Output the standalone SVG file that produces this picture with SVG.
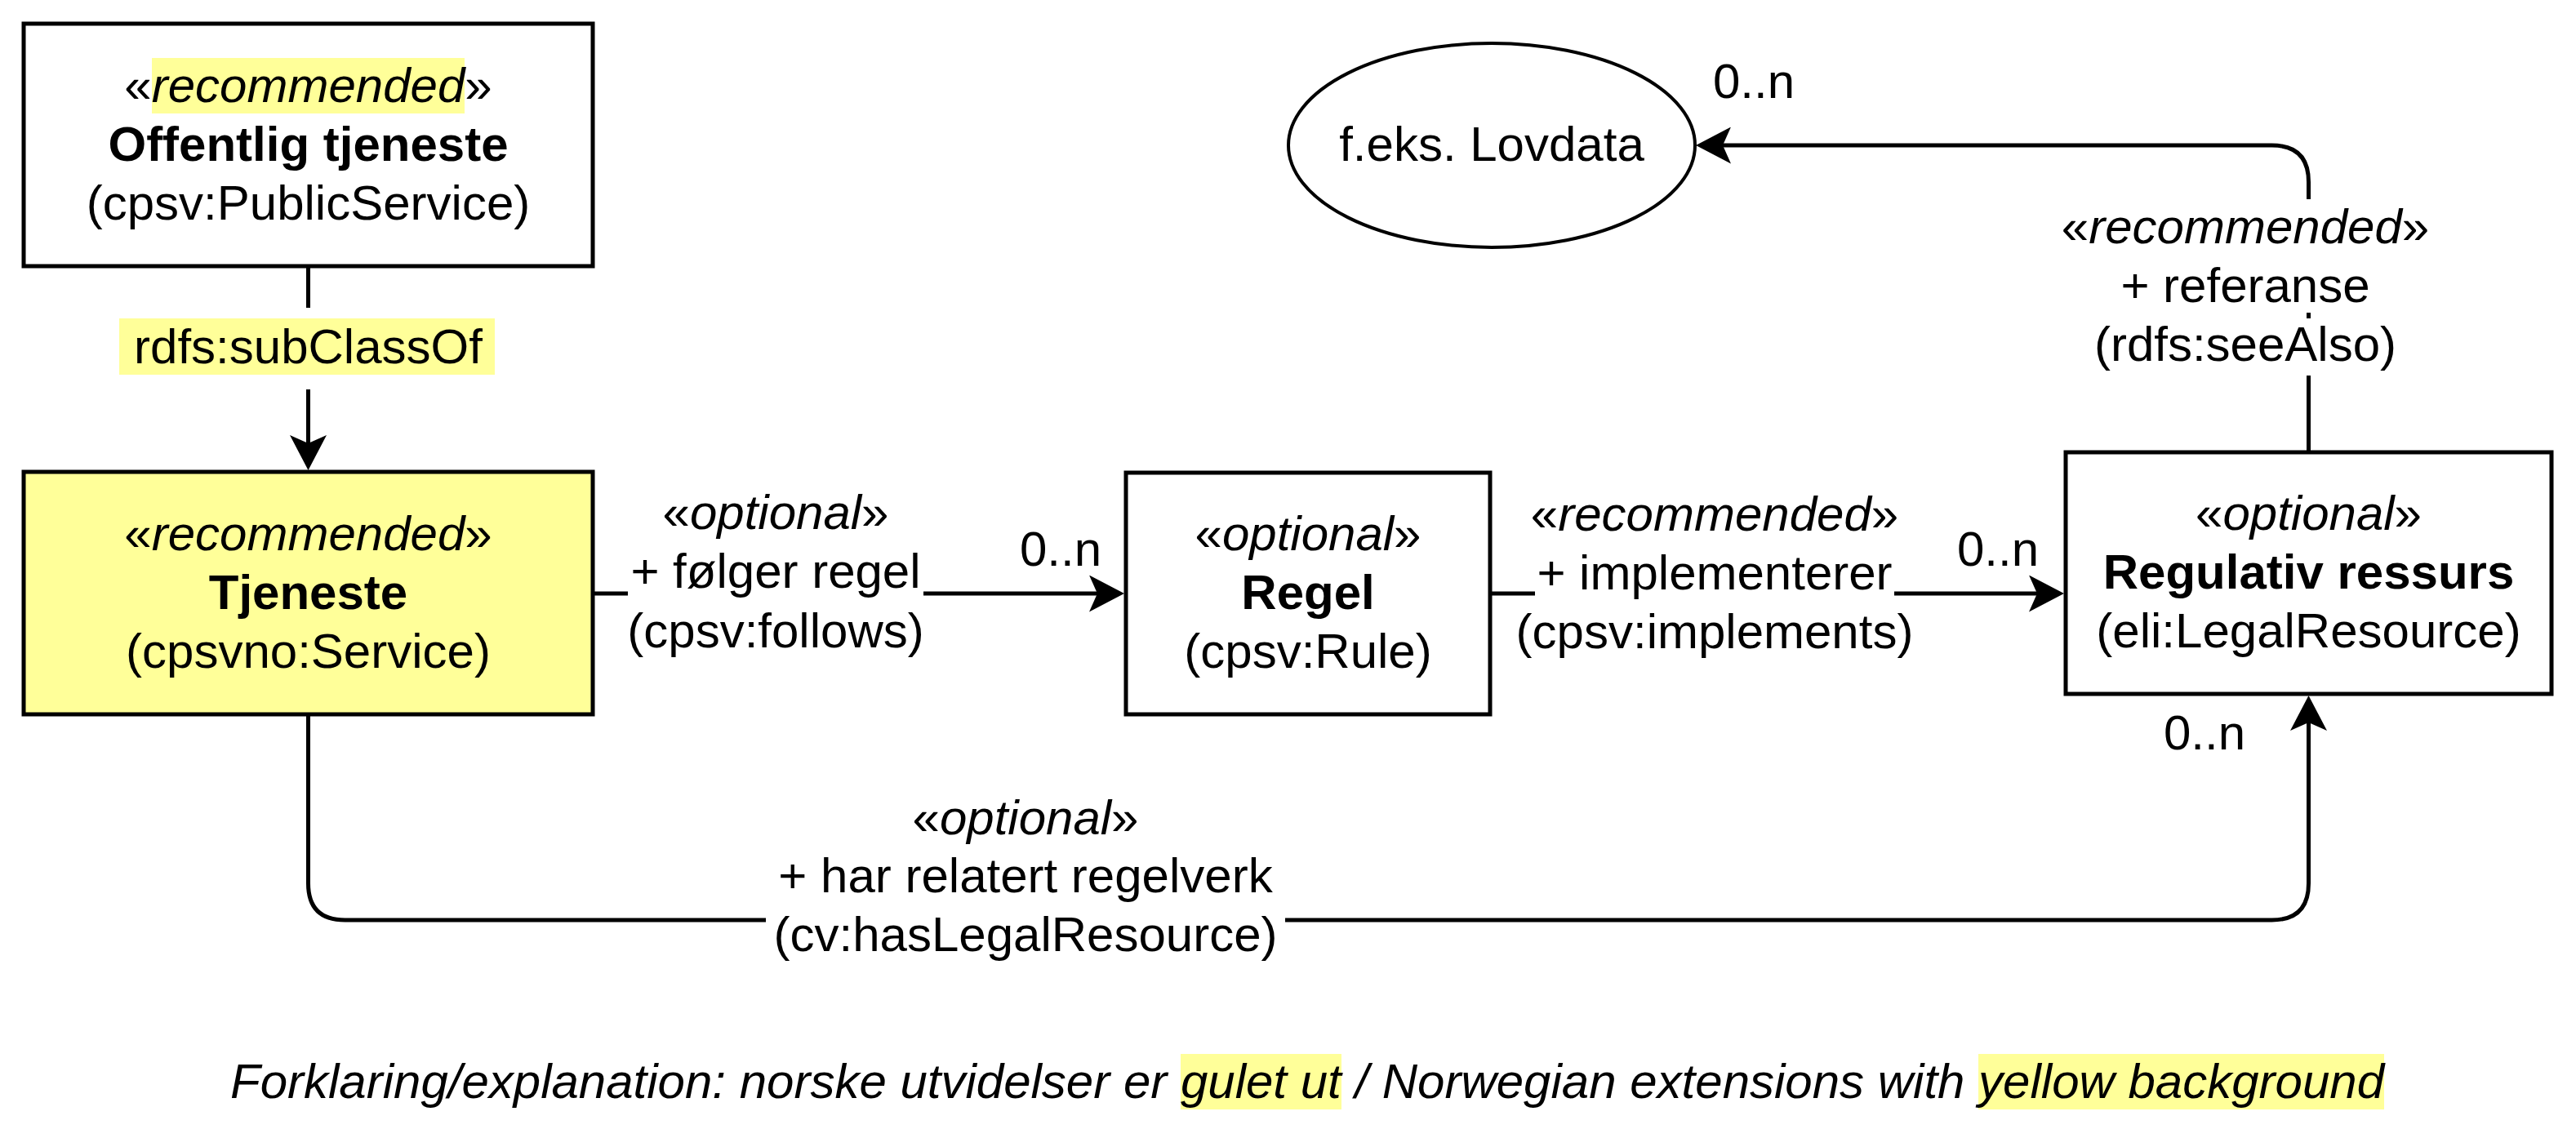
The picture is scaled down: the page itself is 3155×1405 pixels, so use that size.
<svg xmlns="http://www.w3.org/2000/svg" width="3155" height="1405" viewBox="0 0 3155 1405">
<style>
text{font-family:"Liberation Sans",Arial,sans-serif;font-size:60px;fill:#000;text-anchor:middle}
.b{font-weight:bold}
.i{font-style:italic}
.box{fill:#fff;stroke:#000;stroke-width:5}
.ext{fill:#ffff99}
.hl{fill:#ffff99}
.bg{fill:#fff}
.edge{fill:none;stroke:#000;stroke-width:5}
</style>
<defs>
<marker id="arr" markerUnits="userSpaceOnUse" viewBox="0 0 43 45" refX="10" refY="22.5" markerWidth="43" markerHeight="45" orient="auto">
<path d="M43,22.5 L0,0 L10,22.5 L0,45 Z" fill="#000"/>
</marker>
</defs>
<rect width="3155" height="1405" fill="#fff"/>

<g id="connectors">
<path class="edge" d="M377.5,326 L377.5,543" marker-end="url(#arr)"/>
<path class="edge" d="M726,727 L1344,727" marker-end="url(#arr)"/>
<path class="edge" d="M1825,727 L2495,727" marker-end="url(#arr)"/>
<path class="edge" d="M2827.5,552 L2827.5,223 Q2827.5,178 2782.5,178 L2110,178" marker-end="url(#arr)"/>
<path class="edge" d="M377.5,877 L377.5,1082 Q377.5,1127 422.5,1127 L2782.5,1127 Q2827.5,1127 2827.5,1082 L2827.5,885" marker-end="url(#arr)"/>

<g id="label-subclassof">
<rect class="bg" x="146" y="377" width="460" height="100"/>
<rect class="hl" x="146" y="390" width="460" height="69"/>
<text x="377.5" y="445">rdfs:subClassOf</text>
</g>
<g id="label-follows">
<rect class="bg" x="769" y="668" width="362" height="66"/>
<text x="950" y="648">«<tspan class="i">optional</tspan>»</text>
<text x="950" y="720">+ følger regel</text>
<text x="950" y="793">(cpsv:follows)</text>
<text x="1299" y="693">0..n</text>
</g>
<g id="label-implements">
<rect class="bg" x="1880" y="668" width="440" height="66"/>
<text x="2100" y="650">«<tspan class="i">recommended</tspan>»</text>
<text x="2100" y="722">+ implementerer</text>
<text x="2100" y="794">(cpsv:implements)</text>
<text x="2447" y="693">0..n</text>
</g>
<g id="label-seealso">
<rect class="bg" x="2525" y="244" width="450" height="72"/>
<rect class="bg" x="2594" y="311" width="312" height="72"/>
<rect class="bg" x="2563" y="390" width="374" height="70"/>
<text x="2750" y="298">«<tspan class="i">recommended</tspan>»</text>
<text x="2750" y="370">+ referanse</text>
<text x="2750" y="442">(rdfs:seeAlso)</text>
<text x="2148" y="120">0..n</text>
</g>
<g id="label-haslegalresource">
<rect class="bg" x="938" y="1111" width="636" height="69"/>
<text x="1256" y="1022">«<tspan class="i">optional</tspan>»</text>
<text x="1256" y="1093">+ har relatert regelverk</text>
<text x="1256" y="1165">(cv:hasLegalResource)</text>
<text x="2700" y="918">0..n</text>
</g>
</g>

<g id="node-offentlig-tjeneste">
<rect class="box" x="29" y="29" width="697" height="297"/>
<rect class="hl" x="186" y="71" width="383" height="68"/>
<text x="377.5" y="125">«<tspan class="i">recommended</tspan>»</text>
<text class="b" x="377.5" y="197">Offentlig tjeneste</text>
<text x="377.5" y="269">(cpsv:PublicService)</text>
</g>

<g id="node-tjeneste">
<rect class="box ext" x="29" y="578" width="697" height="297"/>
<text x="377.5" y="674">«<tspan class="i">recommended</tspan>»</text>
<text class="b" x="377.5" y="746">Tjeneste</text>
<text x="377.5" y="818">(cpsvno:Service)</text>
</g>

<g id="node-regel">
<rect class="box" x="1379" y="579" width="446" height="296"/>
<text x="1602" y="674">«<tspan class="i">optional</tspan>»</text>
<text class="b" x="1602" y="746">Regel</text>
<text x="1602" y="818">(cpsv:Rule)</text>
</g>

<g id="node-regulativ-ressurs">
<rect class="box" x="2530" y="554" width="595" height="296"/>
<text x="2827.5" y="649">«<tspan class="i">optional</tspan>»</text>
<text class="b" x="2827.5" y="721">Regulativ ressurs</text>
<text x="2827.5" y="793">(eli:LegalResource)</text>
</g>

<g id="node-lovdata">
<ellipse cx="1827" cy="178" rx="249" ry="125" fill="#fff" stroke="#000" stroke-width="4"/>
<text x="1827" y="197">f.eks. Lovdata</text>
</g>

<g id="legend">
<rect class="hl" x="1446" y="1291" width="197" height="68"/>
<rect class="hl" x="2423" y="1291" width="497" height="68"/>
<text class="i" x="282" y="1345" style="text-anchor:start">Forklaring/explanation: norske utvidelser er gulet ut / Norwegian extensions with yellow background</text>
</g>
</svg>
